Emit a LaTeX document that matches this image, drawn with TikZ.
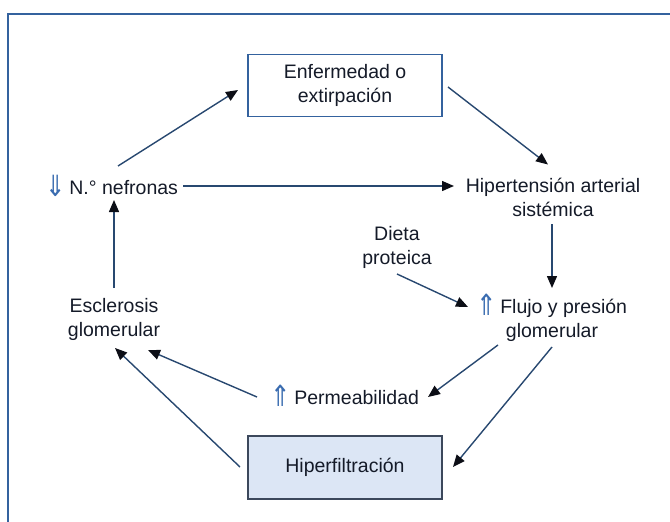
\documentclass[tikz,border=0pt]{standalone}
\usepackage{graphicx}
\usepackage{fontspec}
\setmainfont{Liberation Sans}
\newfontfamily\symfont{DejaVu Sans}
\usetikzlibrary{arrows.meta,calc}
\definecolor{framecol}{RGB}{52,98,158}
\definecolor{txtcol}{RGB}{20,26,40}
\definecolor{linecol}{RGB}{40,72,112}
\definecolor{tipcol}{RGB}{12,14,22}
\definecolor{updown}{RGB}{58,108,176}
\definecolor{hfill}{RGB}{220,230,245}
\definecolor{hdraw}{RGB}{60,72,92}
% tall double arrows for "increase" / "decrease", followed by a small gap
\newcommand{\upar}{{\color{updown}\raisebox{-0.25ex}{\scalebox{1.25}[1.5]{\symfont ⇑}}}\hspace{3pt}}
\newcommand{\dnar}{{\color{updown}\raisebox{-0.25ex}{\scalebox{1.25}[1.5]{\symfont ⇓}}}\hspace{3pt}}
\tikzset{
  lbl/.style={text=txtcol, font=\fontsize{19.5}{24}\selectfont, align=center, inner sep=0pt},
  boxed/.style={lbl, draw=framecol, line width=1.8pt, minimum width=194pt, minimum height=62pt},
  shaded/.style={lbl, draw=hdraw, fill=hfill, line width=1.4pt, minimum width=194pt, minimum height=63pt},
  arr/.style={draw=linecol, line width=1.4pt, -{Triangle[length=12pt,width=10pt,color=tipcol]}}
}
\begin{document}
\begin{tikzpicture}[x=1pt,y=-1pt]
\useasboundingbox (0,0) rectangle (670,522);
% open frame: left and top edges only
\draw[framecol, line width=2pt] (8,522) -- (8,14) -- (670,14);

\node[boxed]  (enf)   at (345,85.5) {Enfermedad o\\extirpación};
\node[lbl]    (nef)   at (112,186)  {\dnar N.° nefronas};
\node[lbl]    (hip)   at (553,197.5){Hipertensión arterial\\sistémica};
\node[lbl]    (dieta) at (397,247)  {Dieta\\proteica};
\node[lbl]    (flujo) at (552,318)  {\upar Flujo y presión\\glomerular};
\node[lbl]    (perm)  at (345,396)  {\upar Permeabilidad};
\node[shaded] (hiper) at (345,467.5){Hiperfiltración};
\node[lbl]    (escl)  at (114,319)  {Esclerosis\\glomerular};

\draw[arr] ($(nef)+(6,-20)$)     -- ($(enf)+(-107,4.5)$);
\draw[arr] ($(enf)+(103,1.5)$)   -- ($(hip)+(-5,-33)$);
\draw[arr] ($(nef)+(71,0)$)      -- ($(hip)+(-99,-11.5)$);
\draw[arr] ($(hip)+(-1,26.5)$)   -- ($(flujo)+(0,-30)$);
\draw[arr] ($(dieta)+(0,27)$)    -- ($(flujo)+(-84,-11)$);
\draw[arr] ($(flujo)+(-54,27)$)  -- ($(perm)+(83,1)$);
\draw[arr] ($(flujo)+(0,29)$)    -- ($(hiper)+(108,-0.5)$);
\draw[arr] ($(perm)+(-88,1)$)    -- ($(escl)+(34,31)$);
\draw[arr] ($(hiper)+(-105,-0.5)$) -- ($(escl)+(1,29)$);
\draw[arr] ($(escl)+(0,-31)$)    -- ($(nef)+(2,14)$);
\end{tikzpicture}
\end{document}
